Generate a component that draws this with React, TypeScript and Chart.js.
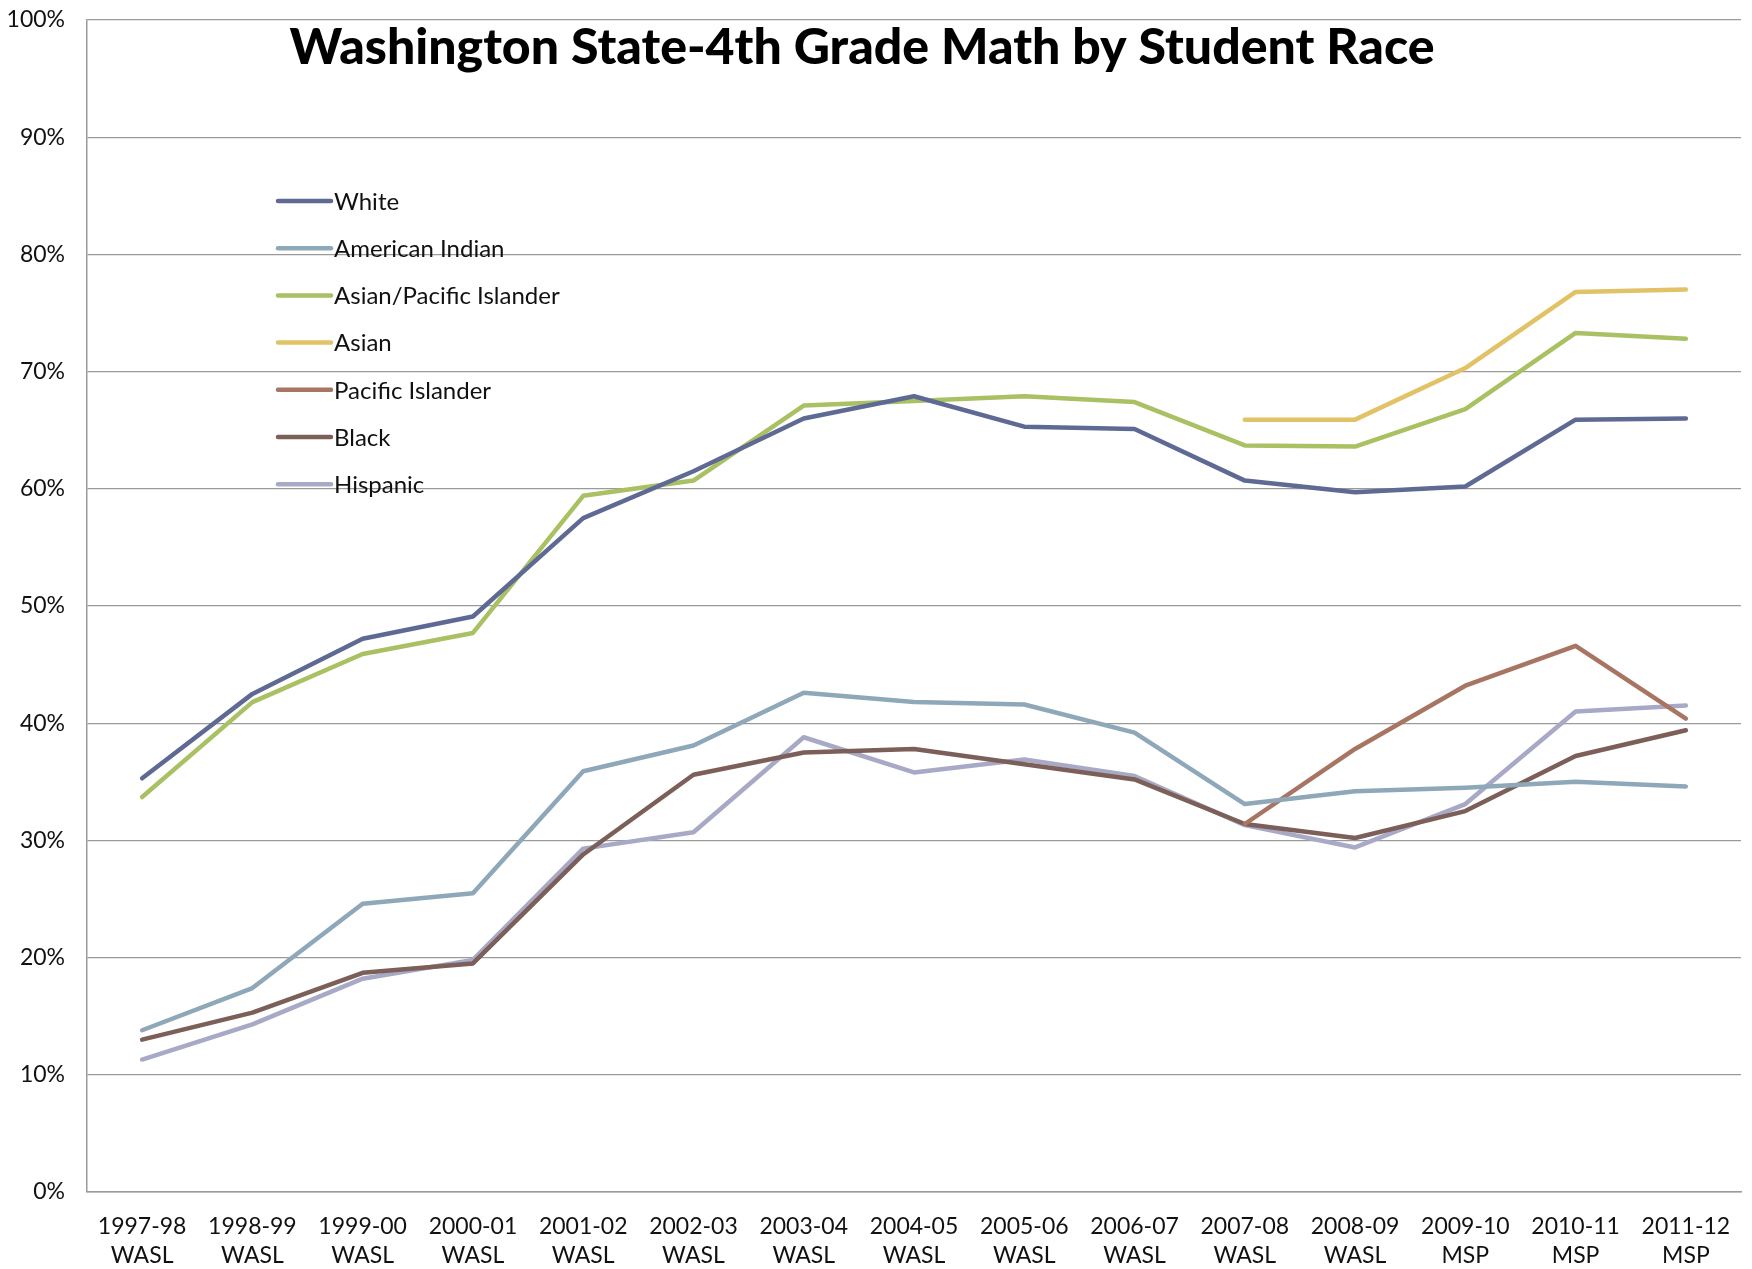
import React, { useEffect, useRef } from "react";
import { Chart, registerables } from "chart.js";

Chart.register(...registerables);

const categories: string[][] = [
  ["1997-98", "WASL"], ["1998-99", "WASL"], ["1999-00", "WASL"], ["2000-01", "WASL"],
  ["2001-02", "WASL"], ["2002-03", "WASL"], ["2003-04", "WASL"], ["2004-05", "WASL"],
  ["2005-06", "WASL"], ["2006-07", "WASL"], ["2007-08", "WASL"], ["2008-09", "WASL"],
  ["2009-10", "MSP"], ["2010-11", "MSP"], ["2011-12", "MSP"],
];

const white = [35.3, 42.5, 47.2, 49.1, 57.5, 61.5, 66.0, 67.9, 65.3, 65.1, 60.7, 59.7, 60.2, 65.9, 66.0];
const americanIndian = [13.8, 17.4, 24.6, 25.5, 35.9, 38.1, 42.6, 41.8, 41.6, 39.2, 33.1, 34.2, 34.5, 35.0, 34.6];
const asianPacific = [33.7, 41.8, 45.9, 47.7, 59.4, 60.7, 67.1, 67.5, 67.9, 67.4, 63.7, 63.6, 66.8, 73.3, 72.8];
const asian = [null, null, null, null, null, null, null, null, null, null, 65.9, 65.9, 70.3, 76.8, 77.0];
const pacificIslander = [null, null, null, null, null, null, null, null, null, null, 31.4, 37.8, 43.2, 46.6, 40.4];
const black = [13.0, 15.3, 18.7, 19.5, 28.8, 35.6, 37.5, 37.8, 36.5, 35.2, 31.4, 30.2, 32.5, 37.2, 39.4];
const hispanic = [11.3, 14.3, 18.2, 19.8, 29.3, 30.7, 38.8, 35.8, 36.9, 35.5, 31.3, 29.4, 33.1, 41.0, 41.5];

const seriesNames = ["White", "American Indian", "Asian/Pacific Islander", "Asian", "Pacific Islander", "Black", "Hispanic"];
const seriesColors = ["#5F6A94", "#8EA8B9", "#A9C063", "#E1C266", "#A87562", "#7B5F58", "#A7A9C6"];
const seriesData = [white, americanIndian, asianPacific, asian, pacificIslander, black, hispanic];

const titleText = "Washington State-4th Grade Math by Student Race";
const FONT = "Lato, 'Open Sans', sans-serif";

const overlayPlugin = {
  id: "overlay",
  afterDraw(chart: any) {
    const ctx = chart.ctx;
    ctx.save();
    // title
    ctx.fillStyle = "#000";
    ctx.font = `900 50px ${FONT}`;
    ctx.textAlign = "center";
    ctx.textBaseline = "middle";
    ctx.fillText(titleText, 862, 48);
    // legend
    const x0 = 278, x1 = 331, y0 = 201, step = 47.2;
    ctx.font = `24px ${FONT}`;
    ctx.textAlign = "left";
    chart.data.datasets.forEach((ds: any, i: number) => {
      const y = y0 + i * step;
      ctx.strokeStyle = ds.borderColor;
      ctx.lineWidth = 4.5;
      ctx.lineCap = "round";
      ctx.beginPath();
      ctx.moveTo(x0, y);
      ctx.lineTo(x1, y);
      ctx.stroke();
      ctx.fillStyle = "#111";
      ctx.fillText(ds.label, x1 + 3, y + 1);
    });
    ctx.restore();
  },
};

export default function App() {
  const ref = useRef<HTMLCanvasElement | null>(null);
  useEffect(() => {
    if (!ref.current) return;
    const chart = new Chart(ref.current, {
      type: "line",
      data: {
        labels: categories,
        datasets: seriesNames.map((name, i) => ({
          label: name,
          data: seriesData[i],
          borderColor: seriesColors[i],
          backgroundColor: seriesColors[i],
          borderWidth: 4.5,
          pointRadius: 0,
          tension: 0,
          spanGaps: false,
          borderCapStyle: "round" as const,
          borderJoinStyle: "round" as const,
        })),
      },
      options: {
        responsive: false,
        animation: false,
        maintainAspectRatio: false,
        layout: { padding: { left: 0, right: 11, top: 20, bottom: 0 } },
        plugins: {
          legend: { display: false },
          title: { display: false },
          tooltip: { enabled: false },
        },
        scales: {
          x: {
            offset: true,
            grid: { display: false },
            border: { display: true, color: "#9a9a9a", width: 1.5 },
            ticks: {
              color: "#111",
              font: { family: FONT, size: 23, lineHeight: 1.25 },
              padding: 12,
              maxRotation: 0,
              autoSkip: false,
            },
            afterFit(scale: any) {
              scale.height = 1269 - 1192;
              scale.paddingLeft = 0;
              scale.paddingRight = 0;
            },
          },
          y: {
            min: 0,
            max: 100,
            grid: { color: "#9a9a9a", lineWidth: 1.2, drawTicks: false },
            border: { display: true, color: "#9a9a9a", width: 1.5 },
            ticks: {
              stepSize: 10,
              color: "#111",
              font: { family: FONT, size: 23 },
              padding: 22,
              callback: (v: any) => `${v}%`,
            },
            afterFit(scale: any) {
              scale.width = 87;
              scale.paddingTop = 0;
              scale.paddingBottom = 0;
            },
          },
        },
      },
      plugins: [overlayPlugin],
    });
    return () => chart.destroy();
  }, []);
  return (
    <div style={{ position: "absolute", left: 0, top: 0, width: 1752, height: 1269, background: "#fff" }}>
      <canvas ref={ref} width={1752} height={1269} style={{ width: 1752, height: 1269 }} />
    </div>
  );
}
